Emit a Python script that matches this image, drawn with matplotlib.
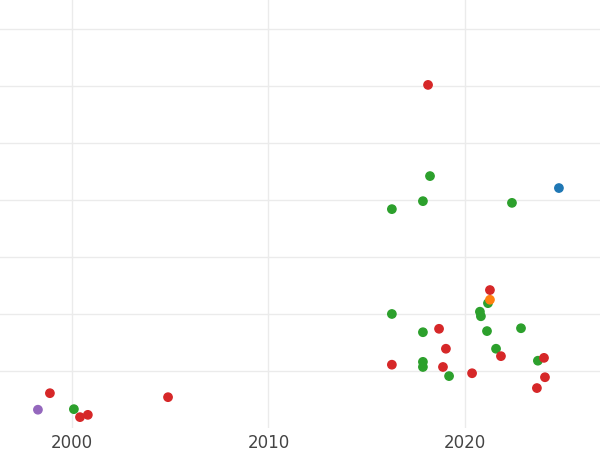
import matplotlib
matplotlib.use("Agg")
import matplotlib.pyplot as plt

years = [1998.27, 1998.88, 2000.10, 2000.41, 2000.81, 2004.89,
         2016.28, 2016.28, 2016.28, 2017.86, 2017.86, 2017.86, 2017.86,
         2018.12, 2018.22, 2018.68, 2018.88, 2019.03, 2019.19, 2020.36,
         2020.76, 2020.81, 2021.12, 2021.17, 2021.27, 2021.27, 2021.58,
         2021.83, 2022.39, 2022.85, 2023.66, 2023.71, 2024.02, 2024.07,
         2024.78]
values = [0.32, 0.61, 0.33, 0.19, 0.23, 0.54,
          3.84, 2.00, 1.11, 3.98, 1.68, 1.16, 1.07,
          6.02, 4.42, 1.74, 1.07, 1.39, 0.91, 0.96,
          2.04, 1.96, 1.70, 2.19, 2.25, 2.42, 1.39,
          1.26, 3.95, 1.75, 0.70, 1.18, 1.23, 0.89,
          4.21]
groups = ["purple", "red", "green", "red", "red", "red",
          "green", "green", "red", "green", "green", "green", "green",
          "red", "green", "red", "red", "red", "green", "red",
          "green", "green", "green", "green", "orange", "red", "green",
          "red", "green", "green", "red", "green", "red", "red",
          "blue"]

palette = {"blue": "#1f77b4", "orange": "#ff7f0e", "green": "#2ca02c",
           "red": "#d62728", "purple": "#9467bd"}

fig = plt.figure(figsize=(6, 4.5), dpi=100)
ax = fig.add_axes([0, 0.049, 1, 0.951])
ax.scatter(years, values, c=[palette[g] for g in groups], s=36, zorder=3)

ax.set_xlim(1996.34, 2026.87)
ax.set_ylim(0, 7.51)
ax.set_xticks([2000, 2010, 2020])
ax.set_yticks(range(1, 8))
ax.set_yticklabels([])
ax.grid(True, color="#ebebeb", lw=1)
for s in ax.spines.values():
    s.set_visible(False)
ax.tick_params(length=0, labelsize=12, labelcolor="#444444", pad=4)

fig.savefig("out.png")
